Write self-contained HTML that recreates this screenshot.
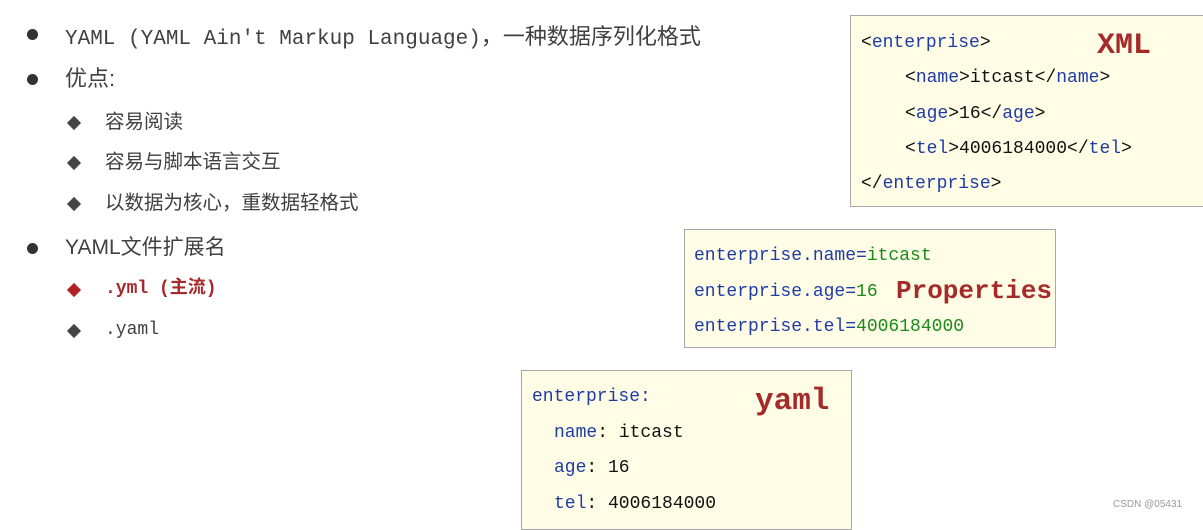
<!DOCTYPE html>
<html><head><meta charset="utf-8"><style>
body{margin:0;width:1203px;height:520px;background:#fff;position:relative;overflow:hidden;font-family:"Liberation Sans","Noto Sans CJK SC",sans-serif;color:#404040}
.a{position:absolute;white-space:pre;line-height:1}
.m{font-family:"Liberation Mono","Noto Sans CJK SC",monospace}
.box{position:absolute;background:#fffde6;border:1px solid #a8a8a8;box-sizing:border-box}
.c{position:absolute;white-space:pre;font-family:"Liberation Mono",monospace;font-size:18px;line-height:1;color:#111}
.b{color:#1f3ca6}.g{color:#1a8a1a}
.r{position:absolute;font-family:"Liberation Mono",monospace;font-weight:bold;color:#a52a2a;line-height:1}
.dot{position:absolute;width:11px;height:11px;border-radius:50%;background:#333}
.dia{position:absolute;width:10px;height:10px;background:#444;transform:rotate(45deg)}
</style></head><body>
<div class="dot" style="left:27px;top:29px"></div>
<div class="a m" style="left:65px;top:24px;font-size:21px">YAML (YAML Ain't Markup Language)<span style="font-family:'Noto Sans CJK SC',sans-serif;font-size:22px">，一种数据序列化格式</span></div>
<div class="dot" style="left:27px;top:74px"></div>
<div class="a" style="left:65px;top:68px;font-size:22px">优点:</div>
<div class="dia" style="left:69px;top:118px"></div>
<div class="a" style="left:105px;top:113px;font-size:19.5px">容易阅读</div>
<div class="dia" style="left:69px;top:158px"></div>
<div class="a" style="left:105px;top:153px;font-size:19.5px">容易与脚本语言交互</div>
<div class="dia" style="left:69px;top:199px"></div>
<div class="a" style="left:105px;top:194px;font-size:19.5px">以数据为核心，重数据轻格式</div>
<div class="dot" style="left:27px;top:243px"></div>
<div class="a" style="left:65px;top:237px;font-size:21px">YAML文件扩展名</div>
<div class="dia" style="left:69px;top:285px;background:#b22222"></div>
<div class="a m" style="left:105px;top:280px;font-size:18px;color:#a52a2a;font-weight:bold">.yml (主流)</div>
<div class="dia" style="left:69px;top:326px"></div>
<div class="a m" style="left:105px;top:321px;font-size:18px">.yaml</div>

<div class="box" style="left:850px;top:15px;width:355px;height:192px"></div>
<div class="c" style="left:861px;top:34px"><span>&lt;</span><span class="b">enterprise</span>&gt;</div>
<div class="c" style="left:905px;top:69px">&lt;<span class="b">name</span>&gt;itcast&lt;/<span class="b">name</span>&gt;</div>
<div class="c" style="left:905px;top:105px">&lt;<span class="b">age</span>&gt;16&lt;/<span class="b">age</span>&gt;</div>
<div class="c" style="left:905px;top:140px">&lt;<span class="b">tel</span>&gt;4006184000&lt;/<span class="b">tel</span>&gt;</div>
<div class="c" style="left:861px;top:175px">&lt;/<span class="b">enterprise</span>&gt;</div>
<div class="r" style="left:1097px;top:31px;font-size:30px">XML</div>

<div class="box" style="left:684px;top:229px;width:372px;height:119px"></div>
<div class="c b" style="left:694px;top:247px">enterprise.name=<span class="g">itcast</span></div>
<div class="c b" style="left:694px;top:283px">enterprise.age=<span class="g">16</span></div>
<div class="c b" style="left:694px;top:318px">enterprise.tel=<span class="g">4006184000</span></div>
<div class="r" style="left:896px;top:278px;font-size:26px">Properties</div>

<div class="box" style="left:521px;top:370px;width:331px;height:160px"></div>
<div class="c b" style="left:532px;top:388px">enterprise:</div>
<div class="c" style="left:554px;top:424px"><span class="b">name</span>: itcast</div>
<div class="c" style="left:554px;top:459px"><span class="b">age</span>: 16</div>
<div class="c" style="left:554px;top:495px"><span class="b">tel</span>: 4006184000</div>
<div class="r" style="left:755px;top:386px;font-size:31px">yaml</div>

<div class="a" style="left:1113px;top:500px;font-size:10px;color:#999">CSDN @05431</div>
</body></html>
